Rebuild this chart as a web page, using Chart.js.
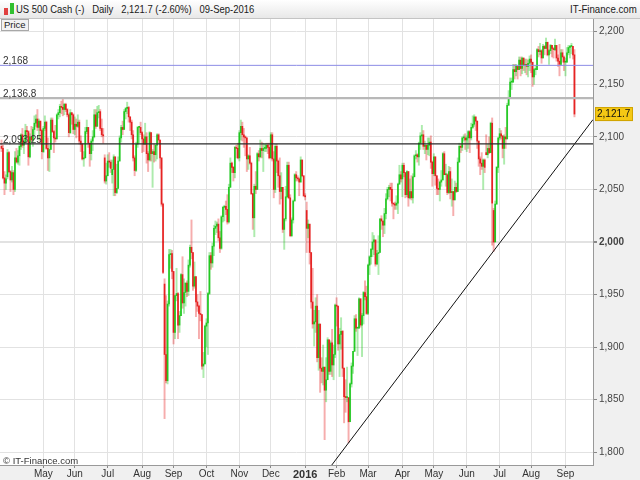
<!DOCTYPE html>
<html>
<head>
<meta charset="utf-8">
<script src="https://cdn.jsdelivr.net/npm/chart.js@4.4.0/dist/chart.umd.min.js"></script>
<style>
body{margin:0;width:640px;height:480px;overflow:hidden;background:#f0f0f0;font-family:"Liberation Sans",Arial,sans-serif;position:relative;}
#head{position:absolute;left:0;top:0;width:640px;height:18px;background:linear-gradient(#ffffff,#e8e8e8);border-bottom:1px solid #c4c4c4;color:#1a1a1a;font-size:11px;}
#title{position:absolute;left:16px;top:3px;white-space:pre;transform:scaleX(0.86);transform-origin:left top;}
#site{position:absolute;right:3px;top:3px;transform:scaleX(0.88);transform-origin:right top;}
.cd{position:absolute;width:4px;}
#wrap{position:absolute;left:0;top:19px;width:640px;height:461px;}
#price{position:absolute;left:1px;top:19px;height:10px;padding:0 2px;border:1px solid #a8a8a8;background:#f2f2f2;font-size:9.5px;line-height:10px;color:#222;}
#copy{position:absolute;left:3px;top:455px;font-size:9.5px;color:#333;}
</style>
</head>
<body>
<div id="head">
  <div class="cd" style="left:4px;top:8px;height:7px;background:#e04040;"></div>
  <div class="cd" style="left:10px;top:3px;height:11px;background:#30c030;"></div>
  <div id="title">US 500 Cash (-)   Daily   2,121.7 (-2.60%)   09-Sep-2016</div>
  <div id="site">IT-Finance.com</div>
</div>
<div id="wrap"><canvas id="chart" width="640" height="461"></canvas></div>
<div id="price">Price</div>
<div id="copy">© IT-Finance.com</div>
<script>
// daily bars, 24-Mar-2015 .. 09-Sep-2016 (weekdays)
const opens = [
2091,2089,2061,2056,2062,2085,
2067,2059,2066,2050,2080,2076,2082,2091,2102,2092,2095,2106,2105,2081,2100,2097,2107,2113,2117,2109,2115,2106,
2086,2108,2114,2089,2080,2088,2116,2105,2099,2098,2121,2123,2129,2128,2126,2131,2126,2121,2104,2123,2121,
2107,2112,2110,2114,2096,2093,2079,2080,2105,2109,2094,2084,2096,2100,2121,2110,2123,2124,2108,2102,2080,2058,
2063,2077,2076,2064,2069,2081,2047,2051,2077,2099,2109,2107,2124,2127,2128,2119,2114,2102,2080,2068,2093,2109,2109,
2104,2098,2093,2100,2084,2078,2104,2084,2086,2083,2092,2102,2097,2080,2036,1960,1893,1868,1941,1988,1989,
1972,1914,1949,1951,1921,1930,1969,1942,1952,1961,1953,1978,1995,1990,1958,1967,1943,1939,1932,1931,1882,1884,
1920,1923,1951,1987,1980,1996,2013,2015,2017,2004,1994,2024,2033,2034,2031,2019,2052,2075,2071,2066,2090,2089,
2080,2104,2110,2102,2100,2099,2079,2082,2075,2046,2023,2053,2050,2084,2081,2089,2087,2089,2089,2092,2090,
2080,2102,2079,2050,2091,2077,2063,2048,2052,2012,2022,2043,2073,2042,2006,2021,2039,2064,2061,2060,2057,2078,2063,
2044,2030,2013,2017,1990,1943,1922,1924,1939,1890,1922,1880,1877,1881,1859,1869,1907,1877,1904,1883,1893,
1940,1939,1903,1912,1915,1880,1853,1852,1852,1829,1865,1882,1896,1927,1918,1918,1946,1921,1930,1952,1948,
1932,1978,1986,1993,2000,2002,1979,1989,1990,2022,2020,2016,2027,2041,2050,2052,2050,2037,2036,2035,2037,2055,2064,
2060,2073,2066,2045,2067,2042,2048,2042,2062,2082,2083,2081,2094,2101,2102,2091,2092,2088,2092,2095,2076,
2065,2081,2063,2051,2050,2057,2059,2084,2064,2064,2047,2067,2047,2048,2040,2052,2048,2076,2091,2090,2099,2099,
2097,2099,2105,2099,2109,2112,2119,2115,2096,2079,2075,2072,2078,2085,2083,2089,2085,2113,2030,2000,2036,2071,
2099,2103,2101,2089,2100,2098,2130,2137,2152,2152,2164,2162,2167,2164,2173,2165,2175,2168,2169,2167,2170,
2174,2171,2157,2164,2164,2183,2181,2182,2175,2186,2184,2190,2178,2182,2187,2184,2183,2187,2175,2172,2169,2180,2176,
2171,2171,2180,2185,2186,2186,2178
];
const highs = [
2097,2092,2067,2064,2088,2086,
2068,2072,2068,2086,2089,2087,2093,2103,2108,2098,2112,2110,2106,2103,2110,2109,2120,2121,2126,2117,2115,2107,
2110,2120,2115,2099,2092,2118,2118,2106,2111,2122,2126,2131,2134,2137,2132,2132,2127,2122,2126,2123,2122,
2119,2117,2121,2116,2101,2094,2086,2109,2116,2109,2094,2098,2106,2126,2126,2129,2130,2126,2117,2108,2083,2075,
2083,2085,2078,2078,2083,2081,2074,2081,2101,2111,2115,2126,2128,2133,2129,2119,2116,2106,2082,2095,2110,2110,2114,
2105,2102,2113,2104,2086,2105,2104,2088,2093,2093,2103,2103,2097,2080,2037,1965,1949,1944,1993,1993,1992,
1972,1949,1975,1952,1934,1970,1986,1965,1961,1963,1983,1997,2021,1990,1981,1967,1950,1940,1953,1931,1895,1921,
1927,1952,1990,1990,1999,2016,2020,2019,2022,2010,2025,2034,2035,2039,2045,2055,2080,2076,2072,2091,2092,2094,
2106,2116,2114,2108,2101,2099,2083,2090,2076,2046,2055,2067,2085,2087,2097,2095,2094,2093,2094,2094,2094,
2104,2104,2086,2093,2093,2078,2080,2066,2052,2022,2053,2076,2076,2045,2023,2040,2065,2067,2063,2061,2081,2078,2063,
2046,2038,2021,2017,1990,1975,1935,1947,1950,1935,1922,1890,1902,1881,1890,1909,1907,1906,1917,1902,1941,
1947,1939,1918,1928,1916,1880,1869,1881,1852,1866,1885,1896,1930,1931,1919,1947,1946,1932,1953,1963,1958,
1979,1987,1994,2009,2006,2002,1992,2006,2022,2025,2020,2032,2046,2052,2054,2056,2056,2037,2038,2044,2056,2073,2067,
2075,2075,2066,2068,2067,2060,2063,2065,2083,2087,2084,2095,2104,2111,2106,2096,2092,2099,2099,2101,2077,
2084,2081,2063,2060,2058,2068,2085,2086,2074,2065,2072,2071,2060,2048,2058,2056,2080,2094,2093,2100,2102,2103,
2101,2106,2106,2113,2120,2121,2119,2115,2096,2081,2085,2079,2079,2102,2093,2100,2114,2118,2032,2039,2072,2099,
2108,2106,2101,2102,2109,2132,2144,2156,2156,2169,2169,2169,2167,2176,2176,2176,2175,2174,2174,2173,2177,
2178,2171,2165,2168,2184,2186,2189,2183,2188,2187,2194,2190,2183,2188,2187,2185,2193,2187,2178,2188,2183,2183,2177,
2175,2185,2187,2187,2189,2186,2183
];
const lows = [
2086,2060,2045,2050,2060,2066,
2048,2057,2045,2048,2075,2074,2073,2088,2090,2084,2094,2099,2073,2080,2095,2091,2102,2110,2106,2097,2094,2079,
2085,2106,2088,2068,2067,2088,2104,2085,2095,2098,2117,2119,2122,2120,2121,2124,2119,2100,2103,2112,2103,
2102,2099,2109,2093,2086,2078,2072,2080,2103,2090,2072,2078,2087,2099,2108,2110,2118,2106,2100,2094,2056,2055,
2063,2071,2066,2056,2044,2044,2046,2051,2077,2095,2102,2107,2117,2122,2114,2106,2098,2077,2063,2067,2090,2094,2102,
2085,2086,2093,2075,2067,2077,2077,2052,2076,2077,2079,2094,2070,2034,1970,1832,1866,1865,1939,1975,1965,
1903,1908,1944,1908,1914,1930,1937,1932,1939,1948,1949,1976,1984,1954,1956,1929,1934,1908,1925,1879,1871,1884,
1900,1893,1950,1974,1976,1987,2007,2009,2001,1990,1993,2019,2020,2026,2017,2018,2052,2066,2058,2061,2080,2079,
2077,2097,2096,2090,2082,2067,2069,2074,2045,2012,2005,2046,2050,2077,2080,2080,2067,2086,2086,2084,2079,
2080,2077,2042,2047,2066,2052,2036,2041,2009,1993,2020,2042,2041,2005,2005,2018,2039,2058,2058,2044,2057,2062,2043,
2040,1990,2004,1979,1937,1918,1901,1914,1886,1878,1857,1866,1864,1812,1848,1869,1874,1874,1872,1869,1890,
1920,1897,1872,1898,1872,1828,1838,1848,1809,1829,1862,1875,1896,1915,1892,1918,1919,1891,1922,1945,1931,
1931,1969,1979,1986,1988,1977,1979,1969,1990,2012,2005,2008,2022,2040,2043,2039,2034,2022,2031,2031,2027,2055,2057,
2043,2062,2042,2043,2034,2041,2040,2037,2062,2079,2076,2073,2088,2094,2088,2084,2078,2083,2082,2070,2053,
2063,2054,2045,2045,2039,2053,2059,2064,2053,2045,2046,2041,2034,2025,2040,2047,2048,2076,2085,2087,2096,2088,
2086,2089,2085,2097,2108,2110,2106,2089,2072,2064,2069,2050,2066,2083,2080,2084,2085,1997,1991,2000,2036,2066,
2097,2098,2080,2074,2089,2098,2130,2137,2145,2152,2155,2158,2155,2164,2158,2160,2163,2161,2159,2157,2163,
2161,2148,2150,2159,2164,2176,2178,2170,2175,2178,2184,2177,2169,2179,2176,2175,2182,2172,2167,2158,2168,2171,2163,
2158,2171,2178,2175,2179,2174,2119
];
const closes = [
2089,2061,2056,2060,2085,2067,
2059,2066,2050,2080,2076,2082,2091,2102,2092,2095,2106,2105,2081,2100,2097,2107,2113,2117,2109,2115,2106,2086,
2108,2114,2089,2080,2088,2116,2105,2099,2098,2121,2123,2129,2128,2126,2131,2126,2121,2104,2123,2121,2107,
2112,2110,2114,2096,2093,2079,2080,2105,2109,2094,2084,2096,2100,2121,2110,2123,2124,2108,2102,2101,2058,2063,
2077,2076,2070,2069,2081,2047,2051,2077,2099,2109,2107,2124,2127,2128,2119,2114,2102,2080,2068,2093,2109,2109,2104,
2098,2093,2100,2084,2078,2104,2084,2086,2083,2092,2102,2097,2080,2036,1971,1893,1868,1941,1988,1989,1972,
1914,1949,1951,1921,1930,1969,1942,1952,1961,1953,1978,1995,1990,1958,1967,1943,1939,1932,1931,1882,1884,1920,
1923,1951,1987,1980,1996,2013,2015,2017,2004,1994,2024,2033,2034,2031,2019,2052,2075,2071,2066,2090,2089,2080,
2104,2110,2102,2100,2099,2079,2082,2075,2046,2023,2053,2050,2084,2081,2089,2087,2089,2089,2092,2090,2080,
2102,2079,2050,2091,2077,2063,2048,2052,2012,2022,2043,2073,2042,2006,2021,2039,2064,2061,2060,2057,2078,2063,2044,
2043,2013,2017,1990,1943,1922,1924,1939,1890,1922,1880,1877,1881,1859,1869,1907,1877,1904,1883,1893,1940,
1939,1903,1912,1915,1880,1853,1852,1852,1829,1865,1882,1896,1927,1918,1918,1946,1921,1930,1952,1948,1932,
1978,1986,1993,2000,2002,1979,1989,1990,2022,2020,2016,2027,2041,2050,2052,2050,2037,2036,2035,2037,2055,2064,2060,
2073,2066,2045,2067,2042,2048,2042,2062,2082,2083,2081,2094,2101,2102,2091,2092,2088,2092,2095,2076,2065,
2081,2063,2051,2050,2057,2059,2084,2064,2064,2047,2067,2047,2048,2040,2052,2048,2076,2091,2090,2099,2099,2097,
2099,2105,2099,2109,2112,2119,2115,2096,2079,2075,2072,2078,2071,2083,2089,2085,2113,2037,2000,2036,2071,2099,
2103,2101,2089,2100,2098,2130,2137,2152,2152,2164,2162,2167,2164,2173,2165,2175,2168,2169,2167,2170,2174,
2171,2157,2164,2164,2183,2181,2182,2175,2186,2184,2190,2178,2182,2187,2184,2183,2187,2175,2172,2169,2180,2176,2171,
2171,2180,2185,2186,2186,2178,2121.7
];

// x axis: bar index of first weekday of each month
const monthIdx = [28,49,71,94,115,137,159,180,203,224,245,268,289,311,333,354,377];
const monthLabels = ['May','Jun','Jul','Aug','Sep','Oct','Nov','Dec','2016','Feb','Mar','Apr','May','Jun','Jul','Aug','Sep'];
const yTicks = [1800,1850,1900,1950,2000,2050,2100,2150,2200];

// horizontal levels and trend line
const levelValues = [2168, 2136.8, 2093.25];
const levelLabels = ['2,168', '2,136.8', '2,093.25'];
const levelColors = ['#8c8ce6', '#b8b8b8', '#2a2a2a'];
const levelWidths = [1, 2.2, 1.2];
const trendIdx = [232, 329];
const trendVal = [1809, 1991.5];
const lastPrice = 2121.7;

const xMin = -1, xMax = 395.4;
const yMin = 1787.9, yMax = 2212.1;

const GREEN = 'rgba(0,192,0,', RED = 'rgba(226,0,0,';
const up = closes.map((c, i) => c >= opens[i]);
const bodyColors = up.map(u => (u ? GREEN : RED) + '0.8)');
const wickColors = up.map(u => (u ? GREEN : RED) + '0.32)');

const slope = (trendVal[1] - trendVal[0]) / (trendIdx[1] - trendIdx[0]);
const trendLine = [xMin, xMax].map(x => ({x: x, y: trendVal[0] + slope * (x - trendIdx[0])}));

let datasets = [];
levelValues.forEach((v, k) => {
    datasets.push({
        type: 'line',
        data: [{x: xMin, y: v}, {x: xMax, y: v}],
        borderColor: levelColors[k],
        borderWidth: levelWidths[k],
        pointRadius: 0,
        order: 0
    });
});
datasets.push({
    type: 'line',
    data: trendLine,
    borderColor: '#111',
    borderWidth: 1,
    pointRadius: 0,
    order: 0
});
datasets.push({
    type: 'bar',
    data: lows.map((l, i) => ({x: i, y: [l, highs[i]]})),
    backgroundColor: wickColors,
    barThickness: 1.3,
    grouped: false,
    order: 2
});
datasets.push({
    type: 'bar',
    data: opens.map((o, i) => ({x: i, y: [o, closes[i]]})),
    backgroundColor: bodyColors,
    barThickness: 1,
    minBarLength: 1,
    grouped: false,
    order: 1
});

const frame = {
    id: 'frame',
    beforeDraw(chart) {
        const c = chart.ctx, a = chart.chartArea;
        c.save();
        c.fillStyle = '#f0f0f0';
        c.fillRect(0, 0, chart.width, chart.height);
        c.fillStyle = '#ffffff';
        c.fillRect(a.left, a.top, a.right - a.left, a.bottom - a.top);
        c.restore();
    },
    afterDraw(chart) {
        const c = chart.ctx, a = chart.chartArea, y = chart.scales.y;
        c.save();
        c.font = '10px "Liberation Sans", Arial, sans-serif';
        c.fillStyle = '#333';
        c.textBaseline = 'alphabetic';
        levelValues.forEach((v, k) => {
            c.fillText(levelLabels[k], 3, y.getPixelForValue(v) - 1);
        });
        // last price tag
        const py = y.getPixelForValue(lastPrice);
        c.fillStyle = '#f5c814';
        c.fillRect(a.right + 2, py - 7, 38, 14);
        c.strokeStyle = '#d0a400';
        c.lineWidth = 1;
        c.strokeRect(a.right + 2.5, py - 6.5, 37, 13);
        c.fillStyle = '#111';
        c.textBaseline = 'middle';
        c.fillText(lastPrice.toLocaleString('en-US', {minimumFractionDigits: 1}), a.right + 4, py + 0.5);
        c.restore();
    }
};

new Chart(document.getElementById('chart'), {
    type: 'bar',
    data: {datasets: datasets},
    options: {
        responsive: false,
        animation: false,
        devicePixelRatio: 1,
        layout: {padding: 0},
        plugins: {legend: {display: false}, tooltip: {enabled: false}},
        scales: {
            x: {
                type: 'linear',
                min: xMin,
                max: xMax,
                offset: false,
                afterBuildTicks: s => { s.ticks = monthIdx.map(v => ({value: v})); },
                afterFit: s => { s.height = 15; s.paddingLeft = 0; s.paddingRight = 0; },
                grid: {offset: false, color: '#e2e2e2', tickColor: '#888', tickLength: 3},
                border: {color: '#999'},
                ticks: {
                    autoSkip: false,
                    maxRotation: 0,
                    padding: 0,
                    color: '#333',
                    callback: (v, i) => monthLabels[i],
                    font: ctx => ({family: '"Liberation Sans", Arial, sans-serif', size: monthLabels[ctx.index] === '2016' ? 11 : 10, weight: monthLabels[ctx.index] === '2016' ? 'bold' : 'normal'})
                }
            },
            y: {
                type: 'linear',
                position: 'right',
                min: yMin,
                max: yMax,
                afterBuildTicks: s => { s.ticks = yTicks.map(v => ({value: v})); },
                afterFit: s => { s.width = 47; s.paddingTop = 0; s.paddingBottom = 0; },
                grid: {
                    color: '#e2e2e2',
                    tickColor: '#888',
                    tickLength: 4,
                    lineWidth: ctx => (ctx.tick && ctx.tick.value === 2000 ? 2 : 1)
                },
                border: {color: '#999'},
                ticks: {
                    padding: 2,
                    color: '#444',
                    callback: v => v.toLocaleString('en-US'),
                    font: ctx => ({family: '"Liberation Sans", Arial, sans-serif', size: 10, weight: ctx.tick && ctx.tick.value === 2000 ? 'bold' : 'normal'})
                }
            }
        }
    },
    plugins: [frame]
});
</script>
</body>
</html>
